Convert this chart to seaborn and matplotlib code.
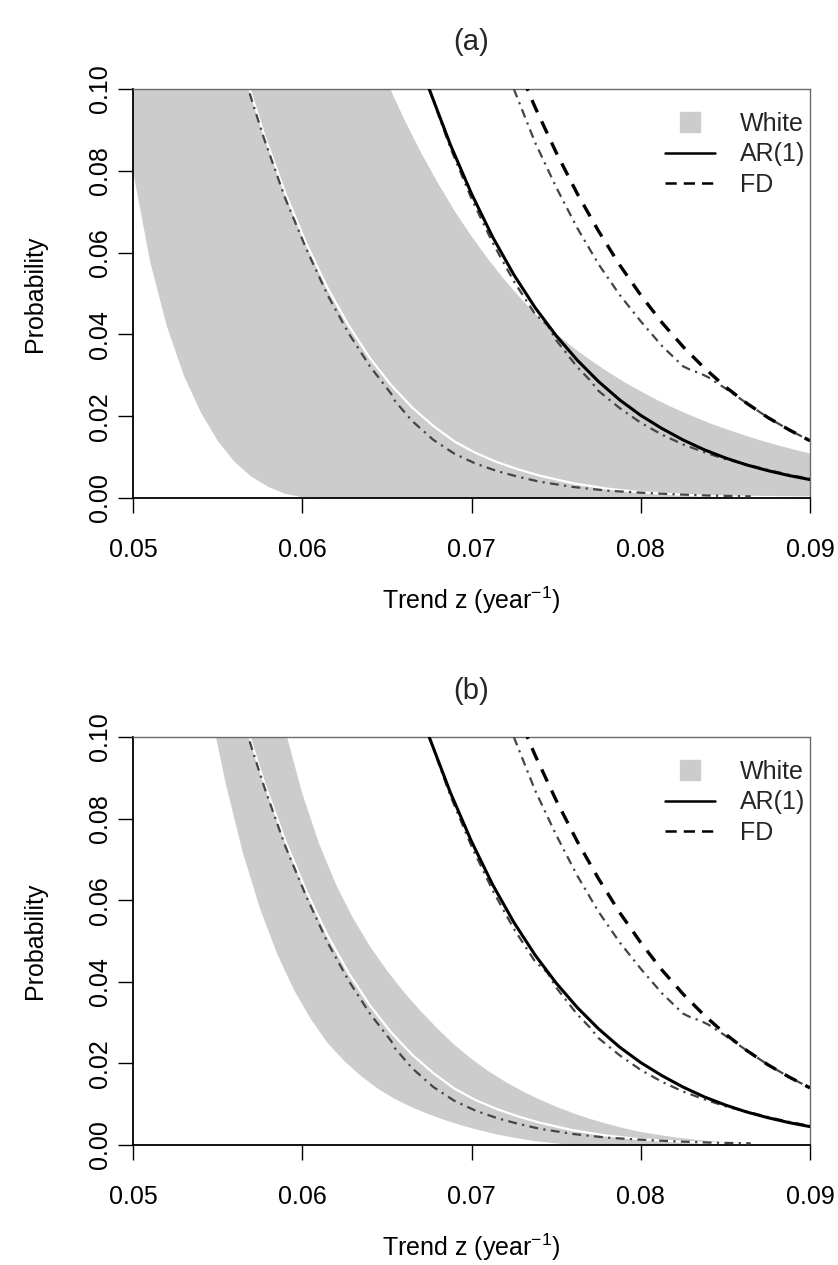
import numpy as np
import pandas as pd
import matplotlib
matplotlib.use("Agg")
import matplotlib.pyplot as plt
from matplotlib.lines import Line2D
import seaborn as sns

# ---- exceedance probability curves (trend z in 1/year) ----
# White-noise analytic curve
white_x = [0.0565, 0.05775, 0.0590, 0.06025, 0.0615, 0.06275, 0.0640, 0.06525,
           0.0665, 0.06775, 0.0690, 0.07025, 0.0715, 0.07275, 0.0740, 0.0760,
           0.0780, 0.0800, 0.0820, 0.0840, 0.0860, 0.0880, 0.0900]
white_p = [0.1051, 0.0888, 0.0745, 0.0621, 0.0513, 0.0421, 0.0342, 0.0276,
           0.0221, 0.0176, 0.0138, 0.0110, 0.0088, 0.0070, 0.0055, 0.0036,
           0.0023, 0.0014, 0.0009, 0.0005, 0.0003, 0.0002, 0.0001]
# White-noise simulated curve
white_sim_x = [0.0565, 0.05775, 0.0590, 0.06025, 0.0615, 0.06275, 0.0640, 0.06525,
               0.0655, 0.0665, 0.06775, 0.0690, 0.07025, 0.0715, 0.07275, 0.0740,
               0.0760, 0.0780, 0.0800, 0.0820, 0.0840, 0.0865]
white_sim_p = [0.1040, 0.0878, 0.0732, 0.0608, 0.0496, 0.0402, 0.0322, 0.0255,
               0.0236, 0.0188, 0.0142, 0.0108, 0.0084, 0.0066, 0.0052, 0.0040,
               0.0027, 0.0018, 0.0013, 0.0009, 0.0006, 0.0004]

# AR(1) analytic and simulated curves
ar1_x = [0.0675, 0.06875, 0.0700, 0.07125, 0.0725, 0.07375, 0.0750, 0.07625,
         0.0775, 0.07875, 0.0800, 0.08125, 0.0825, 0.08375, 0.0850, 0.08625,
         0.0875, 0.08875, 0.0900]
ar1_p = [0.1000, 0.0864, 0.0744, 0.0638, 0.0546, 0.0466, 0.0397, 0.0337,
         0.0285, 0.0240, 0.0202, 0.0170, 0.0142, 0.0118, 0.0098, 0.0081,
         0.0067, 0.0055, 0.0045]
ar1_sim_x = [0.0675, 0.06875, 0.0700, 0.07125, 0.0725, 0.07375, 0.0745, 0.0750,
             0.07625, 0.0770, 0.0775, 0.07875, 0.0800, 0.08125, 0.0825, 0.08375,
             0.0850, 0.08625, 0.0875, 0.08875, 0.0900]
ar1_sim_p = [0.1000, 0.0856, 0.0732, 0.0624, 0.0530, 0.0450, 0.0422, 0.0386,
             0.0320, 0.0288, 0.0262, 0.0220, 0.0184, 0.0155, 0.0131, 0.0112,
             0.0095, 0.0082, 0.0069, 0.0057, 0.0047]

# FD analytic and simulated curves
fd_x = [0.0725, 0.07375, 0.0750, 0.07625, 0.0775, 0.07875, 0.0800, 0.08125,
        0.0825, 0.08375, 0.0850, 0.08625, 0.0875, 0.08875, 0.0900]
fd_p = [0.1078, 0.0956, 0.0845, 0.0744, 0.0653, 0.0570, 0.0496, 0.0429,
        0.0370, 0.0318, 0.0272, 0.0232, 0.0197, 0.0167, 0.0140]
fd_sim_x = [0.0725, 0.07375, 0.0750, 0.07625, 0.0775, 0.07875, 0.0800, 0.08125,
            0.0825, 0.0830, 0.0835, 0.0840, 0.0850, 0.08625, 0.0875, 0.08875, 0.0900]
fd_sim_p = [0.1000, 0.0870, 0.0760, 0.0660, 0.0572, 0.0497, 0.0432, 0.0372,
            0.0322, 0.0312, 0.0305, 0.0295, 0.0268, 0.0232, 0.0197, 0.0167, 0.0140]

# ---- white-noise envelopes ----
# panel (a)
band_a_low_x = [0.0500, 0.0510, 0.0520, 0.0530, 0.0540, 0.0550, 0.0560, 0.0570,
                0.0580, 0.0590, 0.0600, 0.0610, 0.0900]
band_a_low_p = [0.0800, 0.0580, 0.0420, 0.0300, 0.0210, 0.0140, 0.0088, 0.0052,
                0.0027, 0.0010, 0.0002, 0.0000, 0.0000]
band_a_up_x = [0.0500, 0.0652, 0.0660, 0.0670, 0.0680, 0.0690, 0.0700, 0.0710,
               0.0720, 0.0730, 0.0740, 0.0750, 0.0760, 0.0770, 0.0780, 0.0790,
               0.0800, 0.0810, 0.0820, 0.0830, 0.0840, 0.0850, 0.0860, 0.0870,
               0.0880, 0.0890, 0.0900]
band_a_up_p = [0.1000, 0.1000, 0.0928, 0.0846, 0.0771, 0.0702, 0.0640, 0.0583,
               0.0531, 0.0484, 0.0441, 0.0402, 0.0368, 0.0338, 0.0310, 0.0284,
               0.0261, 0.0239, 0.0219, 0.0201, 0.0184, 0.0169, 0.0155, 0.0142,
               0.0130, 0.0119, 0.0109]
# panel (b)
band_b_low_x = [0.0549, 0.0555, 0.0565, 0.0575, 0.0585, 0.0595, 0.0605, 0.0615,
                0.0625, 0.0635, 0.0645, 0.0655, 0.0665, 0.0675, 0.0685, 0.0695,
                0.0705, 0.0715, 0.0725, 0.0735, 0.0745, 0.0755, 0.0765, 0.0890]
band_b_low_p = [0.1000, 0.0882, 0.0715, 0.0580, 0.0470, 0.0381, 0.0309, 0.0250,
                0.0205, 0.0168, 0.0137, 0.0112, 0.0092, 0.0075, 0.0060, 0.0047,
                0.0036, 0.0026, 0.0018, 0.0011, 0.0006, 0.0002, 0.0000, 0.0000]
band_b_up_x = [0.0549, 0.0591, 0.0600, 0.0610, 0.0620, 0.0630, 0.0640, 0.0650,
               0.0660, 0.0670, 0.0680, 0.0690, 0.0700, 0.0710, 0.0720, 0.0730,
               0.0740, 0.0750, 0.0760, 0.0770, 0.0780, 0.0790, 0.0800, 0.0810,
               0.0820, 0.0830, 0.0840, 0.0850, 0.0860, 0.0870, 0.0880, 0.0890]
band_b_up_p = [0.1000, 0.1000, 0.0862, 0.0738, 0.0638, 0.0556, 0.0487, 0.0428,
               0.0375, 0.0328, 0.0285, 0.0245, 0.0211, 0.0181, 0.0155, 0.0132,
               0.0112, 0.0094, 0.0078, 0.0064, 0.0052, 0.0041, 0.0032, 0.0025,
               0.0019, 0.0014, 0.0010, 0.0007, 0.0005, 0.0003, 0.0002, 0.0001]

x_ticks = [0.05, 0.06, 0.07, 0.08, 0.09]
x_tick_labels = ["0.05", "0.06", "0.07", "0.08", "0.09"]
y_ticks = [0.00, 0.02, 0.04, 0.06, 0.08, 0.10]
y_tick_labels = ["0.00", "0.02", "0.04", "0.06", "0.08", "0.10"]
panel_titles = ["(a)", "(b)"]
legend_labels = ["White", "AR(1)", "FD"]

# ---- style ----
sns.set_theme(style="white")
plt.rcParams["font.family"] = ["Liberation Sans", "DejaVu Sans"]
plt.rcParams["mathtext.fontset"] = "custom"
plt.rcParams["mathtext.rm"] = "Liberation Sans"
plt.rcParams["mathtext.it"] = "Liberation Sans:italic"
plt.rcParams["mathtext.default"] = "rm"

BAND = "#CCCCCC"
SIM = "#444444"
FS = 18
W, H = 838, 1265

fig = plt.figure(figsize=(W / 100, H / 100), dpi=100)


def curve(ax, xs, ps, **kw):
    df = pd.DataFrame({"trend": xs, "prob": ps})
    sns.lineplot(data=df, x="trend", y="prob", ax=ax, estimator=None,
                 sort=False, legend=False, **kw)


def panel(rect, title, title_y, low_x, low_p, up_x, up_p):
    ax = fig.add_axes(rect)
    poly_x = np.r_[low_x, up_x[::-1]]
    poly_y = np.r_[low_p, up_p[::-1]]
    ax.fill(poly_x, poly_y, color=BAND, lw=0, zorder=1)

    curve(ax, white_x, white_p, color="white", lw=1.6, zorder=2)
    dashdot = (0, (4, 2.4, 1, 2.4))
    for sx, sp in ((white_sim_x, white_sim_p), (ar1_sim_x, ar1_sim_p),
                   (fd_sim_x, fd_sim_p)):
        curve(ax, sx, sp, color=SIM, lw=1.6, linestyle=dashdot, zorder=3)
    curve(ax, ar1_x, ar1_p, color="black", lw=2.2, zorder=4)
    curve(ax, fd_x, fd_p, color="black", lw=2.4, linestyle=(0, (4, 3)), zorder=4)

    ax.set_xlim(0.05, 0.09)
    ax.set_ylim(0.0, 0.1)
    ax.set_xticks(x_ticks)
    ax.set_xticklabels(x_tick_labels)
    ax.set_yticks(y_ticks)
    ax.set_yticklabels(y_tick_labels, rotation=90, va="center", ha="center")
    ax.tick_params(axis="both", direction="out", length=10.8, width=1.0,
                   color="black", labelsize=FS, labelcolor="black")
    ax.tick_params(axis="x", pad=18, bottom=True)
    ax.tick_params(axis="y", pad=13, left=True)

    for side in ("top", "right"):
        ax.spines[side].set_color("#6b6b6b")
        ax.spines[side].set_linewidth(1.0)
    for side in ("left", "bottom"):
        ax.spines[side].set_color("black")
        ax.spines[side].set_linewidth(1.3)

    ax.set_xlabel("Trend z (year$^{-1}$)", fontsize=FS, va="center", color="black")
    ax.set_ylabel("Probability", fontsize=FS, va="center", color="black")
    ax.xaxis.set_label_coords(0.5, -0.25)
    ax.yaxis.set_label_coords(-0.145, 0.5)

    handles = [
        Line2D([0], [0], marker="s", ms=15, color=BAND, ls="none"),
        Line2D([0], [0], color="black", lw=1.8),
        Line2D([0], [0], color="black", lw=1.8, ls=(0, (4.5, 2.8))),
    ]
    ax.legend(handles, legend_labels, loc="upper right",
              bbox_to_anchor=(1.015, 0.98), frameon=False, fontsize=FS,
              handlelength=2.0, handletextpad=1.0, labelspacing=0.25,
              borderaxespad=0.2)

    x_center = rect[0] + rect[2] / 2
    fig.text(x_center, title_y, title, ha="center", va="center", fontsize=21)
    return ax


left = 133 / W
width = 677 / W
panel([left, 1 - 498 / H, width, 409 / H], panel_titles[0], 1 - 42 / H,
      band_a_low_x, band_a_low_p, band_a_up_x, band_a_up_p)
panel([left, 1 - 1145 / H, width, 408 / H], panel_titles[1], 1 - 691 / H,
      band_b_low_x, band_b_low_p, band_b_up_x, band_b_up_p)

fig.savefig("out.png", dpi=100, facecolor="white")
